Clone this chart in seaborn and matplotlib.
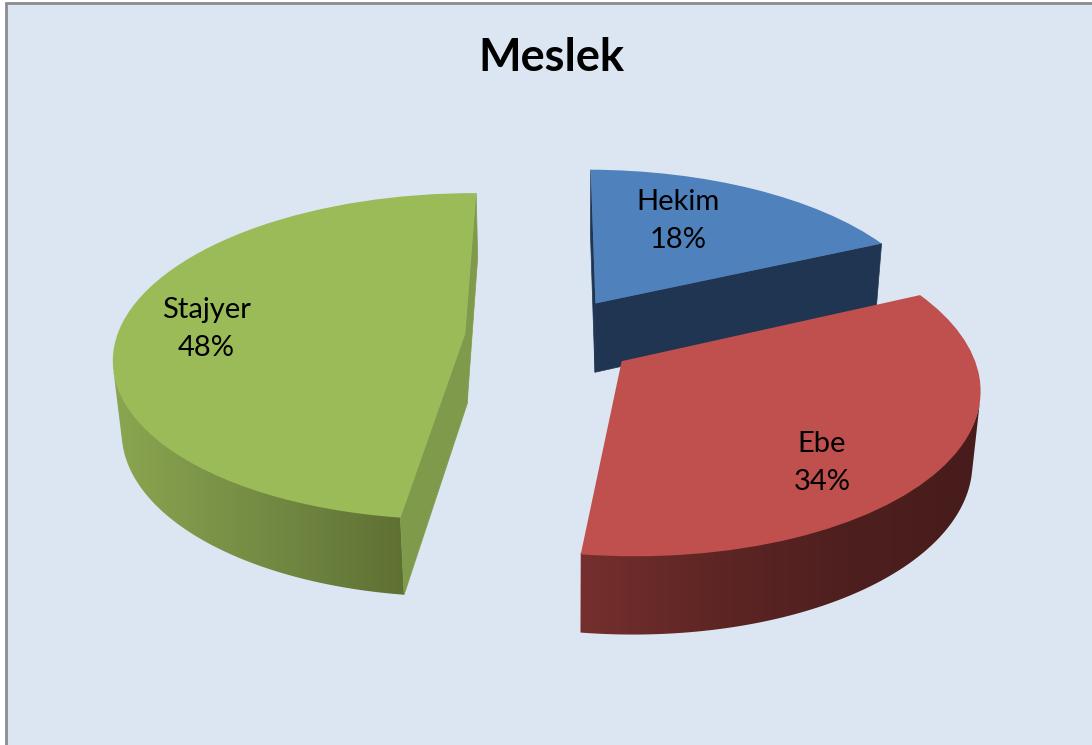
import numpy as np
import matplotlib
matplotlib.use("Agg")
import matplotlib.pyplot as plt
import matplotlib.colors as mcolors
import matplotlib.transforms as mtransforms
from matplotlib.patches import Polygon, Rectangle
import seaborn as sns

# Data
names = ["Hekim", "Ebe", "Stajyer"]
values = [18, 34, 48]
explode = [0.253, 0.2521, 0.244]

# Colours
top_colors = ["#4f81bd", "#c0504d", "#9bbb59"]
cut_colors = ["#1f3552", "#5a2523", "#7f9a4a"]
wall_stops = [
    ["#1f3552", "#1f3552"],
    ["#752f2e", "#5e2624", "#4e1f1f", "#481c1c"],
    ["#8ba650", "#7c9448", "#6d833f", "#5f7033"],
]

# 3D view of the pie plane (z=0 is the top face, z=1 the bottom), worked out from the picture
camera = np.array([
    [347.7958731, 76.8506115, 10.9381996, 549.5355104],
    [1.7078359, -114.2268776, 78.0774825, 336.594632],
    [0.0011063, 0.1382416, 0.0192236, 1.0],
])
label_pos = [(678, 221), (822, 463), (206, 329)]


def project(x, y, z=0.0):
    x = np.asarray(x, float)
    y = np.asarray(y, float)
    q = camera @ np.array([x, y, z * np.ones_like(x), np.ones_like(x)])
    return q[0] / q[2], q[1] / q[2]


class TopFace(mtransforms.Transform):
    input_dims = 2
    output_dims = 2
    has_inverse = False

    def transform_non_affine(self, xy):
        xy = np.asarray(xy, float)
        return np.column_stack(project(xy[:, 0], xy[:, 1]))


sns.set_theme(style="white")
plt.rcParams["font.family"] = ["Lato", "DejaVu Sans"]

fig = plt.figure(figsize=(10.92, 7.45), dpi=100, facecolor="white")
ax = fig.add_axes([0, 0, 1, 1])

wedges, _ = ax.pie(values, explode=explode, startangle=90, counterclock=False, radius=1,
                   colors=sns.color_palette(top_colors), wedgeprops={"linewidth": 0})
ax.add_patch(Rectangle((6, 3), 1200, 900, facecolor="#dce6f2", edgecolor="#8c8c8c", linewidth=2, zorder=0))

# blue sits behind red, so it gets the lower layers
layers = [1, 5, 5]
top_tf = TopFace() + ax.transData
shares = np.array(values, float)
edges = np.radians(90 - 360 * np.concatenate([[0], np.cumsum(shares)]) / shares.sum())

for i, w in enumerate(wedges):
    w.set_transform(top_tf)
    w.set_zorder(layers[i] + 2)

    mid = (edges[i] + edges[i + 1]) / 2
    ox = explode[i] * np.cos(mid)
    oy = explode[i] * np.sin(mid)

    # outer wall: only the part that faces the viewer
    theta = np.linspace(edges[i], edges[i + 1], 400)
    tx, ty = project(ox + np.cos(theta), oy + np.sin(theta), -0.02)
    bx, by = project(ox + np.cos(theta), oy + np.sin(theta), 1)
    facing = np.gradient(tx) * (by - ty) - np.gradient(ty) * (bx - tx) < 0
    if facing.sum() > 1:
        outline = np.column_stack([np.r_[tx[facing], bx[facing][::-1]],
                                   np.r_[ty[facing], by[facing][::-1]]])
        clip = Polygon(outline, closed=True, transform=ax.transData, facecolor="none", linewidth=0)
        ax.add_patch(clip)
        cmap = mcolors.LinearSegmentedColormap.from_list("wall", wall_stops[i])
        x_lo, x_hi = outline[:, 0].min(), outline[:, 0].max()
        y_lo, y_hi = outline[:, 1].min(), outline[:, 1].max()
        shade = ax.imshow(np.linspace(0, 1, 256)[None, :], cmap=cmap, aspect="auto",
                          extent=(x_lo, x_hi, y_hi, y_lo), zorder=layers[i], interpolation="bilinear")
        shade.set_clip_path(clip)

    # cut faces, red's are hidden behind its own top
    if names[i] != "Ebe":
        for edge in (edges[i], edges[i + 1]):
            ex = ox + np.cos(edge)
            ey = oy + np.sin(edge)
            corners = [project(ox, oy), project(ex, ey), project(ex, ey, 1), project(ox, oy, 1)]
            ax.add_patch(Polygon(corners, closed=True, facecolor=cut_colors[i], edgecolor=cut_colors[i],
                                 linewidth=0.5, zorder=layers[i] + 1))

ax.set_aspect("auto")
ax.set_xlim(0, 1092)
ax.set_ylim(745, 0)

for name, value, (x, y) in zip(names, values, label_pos):
    ax.text(x, y, f"{name}\n{value}%", ha="center", va="center", fontsize=21, color="black",
            linespacing=1.55, zorder=10)

ax.text(551, 58, "Meslek", ha="center", va="center", fontsize=32.5, fontweight="bold", color="black", zorder=10)

fig.savefig("out.png", dpi=100)
